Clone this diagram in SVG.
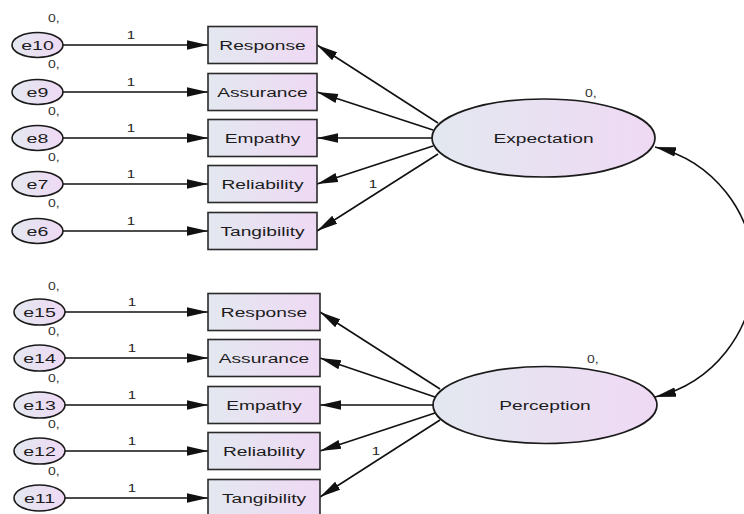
<svg xmlns="http://www.w3.org/2000/svg" width="744" height="514" viewBox="0 0 744 514">
<style>
.bg{fill:#ffffff}
.obs{fill:url(#g);stroke:#2a2a2a;stroke-width:1.6}
.lat{fill:url(#g);stroke:#1a1a1a;stroke-width:1.7}
.err{fill:url(#g);stroke:#1a1a1a;stroke-width:1.6}
.lbl{font-family:"Liberation Sans",Arial,sans-serif;font-size:13.5px;fill:#1c1c1c;text-anchor:middle}
.sm{font-family:"Liberation Sans",Arial,sans-serif;font-size:10.5px;fill:#222222;text-anchor:middle}
.zr{font-family:"Liberation Sans",Arial,sans-serif;font-size:10px;fill:#333333;text-anchor:start}
.c{fill:none;stroke:#111111;stroke-width:1.6;marker-end:url(#ah)}
.cc{fill:none;stroke:#111111;stroke-width:1.6;marker-end:url(#ah);marker-start:url(#ah)}
</style>
<defs>
<linearGradient id="g" x1="0" y1="0" x2="1" y2="0">
<stop offset="0" stop-color="#e3e8f0"/>
<stop offset="1" stop-color="#efd9f4"/>
</linearGradient>
<marker id="ah" markerUnits="userSpaceOnUse" markerWidth="22" markerHeight="11" refX="21" refY="5.5" orient="auto-start-reverse">
<path d="M0,0.8 L21,5.5 L0,10.2 Z" fill="#111111"/>
</marker>
</defs>
<rect class="bg" x="0" y="0" width="744" height="514"/>

<g id="connectors">
<line class="c" x1="63" y1="45" x2="208" y2="45"/>
<line class="c" x1="63" y1="92" x2="208" y2="92"/>
<line class="c" x1="63" y1="138" x2="208" y2="138"/>
<line class="c" x1="63" y1="184" x2="208" y2="184"/>
<line class="c" x1="63" y1="231" x2="208" y2="231"/>
<line class="c" x1="65" y1="312" x2="208" y2="312"/>
<line class="c" x1="65" y1="358" x2="208" y2="358"/>
<line class="c" x1="65" y1="405" x2="208" y2="405"/>
<line class="c" x1="65" y1="451" x2="208" y2="451"/>
<line class="c" x1="65" y1="498" x2="208" y2="498"/>
<line class="c" x1="438" y1="123" x2="317" y2="45"/>
<line class="c" x1="433" y1="130" x2="317" y2="92"/>
<line class="c" x1="432" y1="138" x2="317" y2="138"/>
<line class="c" x1="433" y1="146" x2="317" y2="184"/>
<line class="c" x1="438" y1="154" x2="317" y2="231"/>
<line class="c" x1="440" y1="389" x2="320" y2="312"/>
<line class="c" x1="435" y1="397" x2="320" y2="358"/>
<line class="c" x1="433" y1="405" x2="320" y2="405"/>
<line class="c" x1="435" y1="413" x2="320" y2="451"/>
<line class="c" x1="440" y1="420" x2="320" y2="497"/>
<path class="cc" d="M655,147 A128.5,128.5 0 0 1 655,397"/>
<text class="sm" transform="translate(131,38.5) scale(1.45,1)">1</text>
<text class="sm" transform="translate(131,85.5) scale(1.45,1)">1</text>
<text class="sm" transform="translate(131,131.5) scale(1.45,1)">1</text>
<text class="sm" transform="translate(131,177.5) scale(1.45,1)">1</text>
<text class="sm" transform="translate(131,224.5) scale(1.45,1)">1</text>
<text class="sm" transform="translate(132,305.5) scale(1.45,1)">1</text>
<text class="sm" transform="translate(132,351.5) scale(1.45,1)">1</text>
<text class="sm" transform="translate(132,398.5) scale(1.45,1)">1</text>
<text class="sm" transform="translate(132,444.5) scale(1.45,1)">1</text>
<text class="sm" transform="translate(132,491.5) scale(1.45,1)">1</text>
<text class="sm" transform="translate(373,187.5) scale(1.45,1)">1</text>
<text class="sm" transform="translate(376,454.5) scale(1.45,1)">1</text>
</g>

<g id="e10"><ellipse class="err" cx="37.5" cy="45" rx="25.5" ry="12.5"/><text class="lbl" transform="translate(37.5,49.8) scale(1.45,1)">e10</text><text class="zr" transform="translate(48,22) scale(1.4,1)">0,</text></g>
<g id="e9"><ellipse class="err" cx="37.5" cy="92" rx="25.5" ry="12.5"/><text class="lbl" transform="translate(37.5,96.8) scale(1.45,1)">e9</text><text class="zr" transform="translate(48,68) scale(1.4,1)">0,</text></g>
<g id="e8"><ellipse class="err" cx="37.5" cy="138" rx="25.5" ry="12.5"/><text class="lbl" transform="translate(37.5,142.8) scale(1.45,1)">e8</text><text class="zr" transform="translate(48,115) scale(1.4,1)">0,</text></g>
<g id="e7"><ellipse class="err" cx="37.5" cy="184" rx="25.5" ry="12.5"/><text class="lbl" transform="translate(37.5,188.8) scale(1.45,1)">e7</text><text class="zr" transform="translate(48,161) scale(1.4,1)">0,</text></g>
<g id="e6"><ellipse class="err" cx="37.5" cy="231" rx="25.5" ry="12.5"/><text class="lbl" transform="translate(37.5,235.8) scale(1.45,1)">e6</text><text class="zr" transform="translate(48,207) scale(1.4,1)">0,</text></g>

<g id="e15"><ellipse class="err" cx="39.5" cy="312" rx="25.5" ry="13"/><text class="lbl" transform="translate(39.5,316.8) scale(1.45,1)">e15</text><text class="zr" transform="translate(48,290) scale(1.4,1)">0,</text></g>
<g id="e14"><ellipse class="err" cx="39.5" cy="358" rx="25.5" ry="13"/><text class="lbl" transform="translate(39.5,362.8) scale(1.45,1)">e14</text><text class="zr" transform="translate(48,335) scale(1.4,1)">0,</text></g>
<g id="e13"><ellipse class="err" cx="39.5" cy="405" rx="25.5" ry="13"/><text class="lbl" transform="translate(39.5,409.8) scale(1.45,1)">e13</text><text class="zr" transform="translate(48,382) scale(1.4,1)">0,</text></g>
<g id="e12"><ellipse class="err" cx="39.5" cy="451" rx="25.5" ry="13"/><text class="lbl" transform="translate(39.5,455.8) scale(1.45,1)">e12</text><text class="zr" transform="translate(48,428) scale(1.4,1)">0,</text></g>
<g id="e11"><ellipse class="err" cx="39.5" cy="498" rx="25.5" ry="13"/><text class="lbl" transform="translate(39.5,502.8) scale(1.45,1)">e11</text><text class="zr" transform="translate(48,475) scale(1.4,1)">0,</text></g>

<g id="exp_response"><rect class="obs" x="208" y="26.5" width="109" height="37"/><text class="lbl" transform="translate(262.5,49.8) scale(1.42,1)">Response</text></g>
<g id="exp_assurance"><rect class="obs" x="208" y="73.5" width="109" height="37"/><text class="lbl" transform="translate(262.5,96.8) scale(1.42,1)">Assurance</text></g>
<g id="exp_empathy"><rect class="obs" x="208" y="119.5" width="109" height="37"/><text class="lbl" transform="translate(262.5,142.8) scale(1.42,1)">Empathy</text></g>
<g id="exp_reliability"><rect class="obs" x="208" y="165.5" width="109" height="37"/><text class="lbl" transform="translate(262.5,188.8) scale(1.42,1)">Reliability</text></g>
<g id="exp_tangibility"><rect class="obs" x="208" y="212.5" width="109" height="37"/><text class="lbl" transform="translate(262.5,235.8) scale(1.42,1)">Tangibility</text></g>

<g id="per_response"><rect class="obs" x="208" y="293.5" width="112" height="37"/><text class="lbl" transform="translate(264,316.8) scale(1.42,1)">Response</text></g>
<g id="per_assurance"><rect class="obs" x="208" y="339.5" width="112" height="37"/><text class="lbl" transform="translate(264,362.8) scale(1.42,1)">Assurance</text></g>
<g id="per_empathy"><rect class="obs" x="208" y="386.5" width="112" height="37"/><text class="lbl" transform="translate(264,409.8) scale(1.42,1)">Empathy</text></g>
<g id="per_reliability"><rect class="obs" x="208" y="432.5" width="112" height="37"/><text class="lbl" transform="translate(264,455.8) scale(1.42,1)">Reliability</text></g>
<g id="per_tangibility"><rect class="obs" x="208" y="479.5" width="112" height="37"/><text class="lbl" transform="translate(264,502.8) scale(1.42,1)">Tangibility</text></g>

<g id="expectation"><ellipse class="lat" cx="543.5" cy="138" rx="111.5" ry="39"/><text class="lbl" transform="translate(543.5,143) scale(1.42,1)">Expectation</text><text class="zr" transform="translate(585,97) scale(1.4,1)">0,</text></g>
<g id="perception"><ellipse class="lat" cx="545" cy="405" rx="112" ry="38.5"/><text class="lbl" transform="translate(545,410) scale(1.42,1)">Perception</text><text class="zr" transform="translate(587,363) scale(1.4,1)">0,</text></g>
</svg>
